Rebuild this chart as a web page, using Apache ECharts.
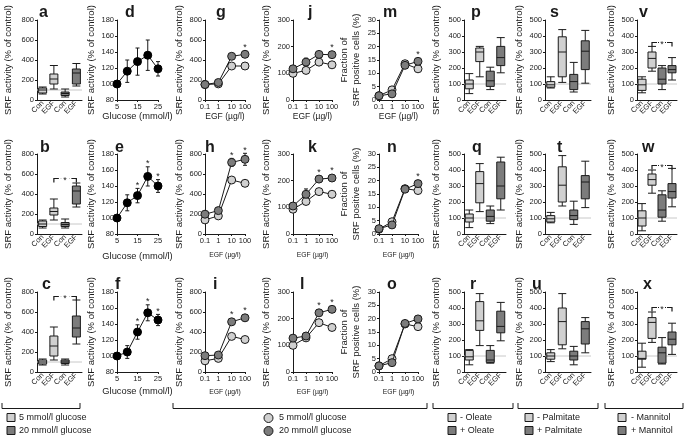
<!DOCTYPE html>
<html><head><meta charset="utf-8">
<script src="https://cdn.jsdelivr.net/npm/echarts/dist/echarts.min.js"></script>
<style>html,body{margin:0;padding:0;background:#fff}#c{width:685px;height:436px}</style>
</head><body><div id="c"></div>
<script>
// ---------------- DATA ----------------
const boxCats = ['Con', 'EGF', 'Con', 'EGF'];
const egfCats = ['0.1', '1', '10', '100'];
const glucoseCats = ['5', '10', '15', '20', '25'];
const ticksSrf800 = [0, 200, 400, 600, 800];
const ticksSrf500 = [0, 100, 200, 300, 400, 500];
const ticksSrf300 = [0, 100, 200, 300];
const ticksGluc = [80, 100, 120, 140, 160, 180];
const ticksFrac = [0, 5, 10, 15, 20, 25, 30];
const refLevel = 100;

// box plots: [min, Q1, median, Q3, max]  (5 mM Con, 5 mM EGF, 20 mM Con, 20 mM EGF)
const boxA = [[60, 70, 100, 120, 130], [110, 160, 210, 260, 345], [30, 45, 65, 80, 110], [140, 160, 270, 310, 365]];
const boxB = [[60, 75, 100, 130, 140], [140, 190, 225, 260, 350], [60, 75, 95, 115, 150], [270, 300, 430, 480, 510]];
const boxC = [[70, 80, 100, 120, 130], [120, 160, 260, 360, 450], [70, 85, 100, 120, 130], [280, 350, 440, 560, 720]];
const bracketB = [1, 3, 560];
const bracketC = [1, 3, 760];

// glucose dose response
const glucD = [100, 116, 128, 136, 119], errGlucD = [0, 14, 17, 19, 9], starGlucD = [0, 0, 0, 0, 0];
const glucE = [100, 119, 128, 152, 140], errGlucE = [0, 10, 9, 12, 8], starGlucE = [0, 0, 1, 1, 1];
const glucF = [100, 105, 130, 154, 145], errGlucF = [0, 8, 9, 10, 7], starGlucF = [0, 0, 1, 1, 1];

// EGF dose response: light = 5 mM glucose, dark = 20 mM glucose
const lightG = [155, 161, 340, 340], darkG = [155, 175, 437, 457];
const errLightG = [10, 10, 20, 20], errDarkG = [10, 15, 25, 30], starG = [0, 0, 0, 1];
const lightH = [141, 181, 540, 507], darkH = [198, 234, 716, 747];
const errLightH = [15, 15, 30, 25], errDarkH = [15, 20, 40, 60], starH = [0, 0, 1, 1];
const lightI = [112, 136, 356, 325], darkI = [163, 170, 502, 542];
const errLightI = [10, 10, 20, 20], errDarkI = [15, 15, 30, 30], starI = [0, 0, 1, 1];
const lightJ = [100, 111, 142, 132], darkJ = [117, 142, 171, 170];
const errLightJ = [5, 8, 8, 8], errDarkJ = [8, 15, 10, 10], starJ = [0, 0, 0, 1];
const lightK = [93, 122, 159, 149], darkK = [105, 149, 206, 210];
const errLightK = [5, 10, 8, 8], errDarkK = [8, 20, 8, 8], starK = [0, 0, 1, 1];
const lightL = [100, 128, 185, 167], darkL = [127, 135, 222, 235];
const errLightL = [5, 10, 8, 8], errDarkL = [10, 10, 8, 8], starL = [0, 0, 1, 1];
const lightM = [1.6, 3.8, 13.6, 11.7], darkM = [1.6, 2.3, 13.0, 14.5];
const errLightM = [0.3, 0.5, 0.5, 0.5], errDarkM = [0.3, 0.5, 0.5, 0.8], starM = [0, 0, 0, 1];
const lightN = [1.8, 4.6, 17.0, 16.3], darkN = [2.0, 3.4, 16.8, 18.9];
const errLightN = [0.3, 0.5, 0.5, 0.5], errDarkN = [0.3, 0.5, 0.5, 0.8], starN = [0, 0, 0, 1];
const lightO = [2.3, 5.0, 18.0, 17.0], darkO = [2.3, 3.5, 18.2, 19.9];
const errLightO = [0.3, 0.5, 0.5, 0.8], errDarkO = [0.3, 0.5, 0.6, 0.8], starO = [0, 0, 0, 0];

// fatty acids / mannitol box plots: (- Con, - EGF, + Con, + EGF)
const boxP = [[40, 70, 100, 125, 165], [145, 240, 300, 325, 335], [65, 85, 120, 180, 205], [170, 215, 265, 335, 390]];
const boxQ = [[40, 75, 100, 125, 150], [140, 195, 315, 390, 440], [65, 80, 110, 150, 175], [150, 220, 300, 450, 480]];
const boxR = [[45, 75, 95, 135, 140], [165, 260, 320, 440, 490], [55, 60, 75, 135, 165], [195, 245, 285, 380, 435]];
const boxS = [[75, 80, 95, 115, 145], [110, 145, 300, 395, 440], [50, 65, 115, 160, 235], [105, 190, 305, 370, 435]];
const boxT = [[70, 75, 95, 115, 135], [175, 200, 305, 420, 490], [60, 90, 115, 150, 205], [165, 220, 325, 365, 455]];
const boxU = [[65, 80, 100, 120, 140], [145, 170, 315, 400, 490], [45, 75, 100, 130, 160], [120, 175, 270, 315, 340]];
const boxV = [[45, 60, 95, 130, 145], [180, 200, 260, 300, 335], [65, 100, 130, 200, 215], [125, 170, 190, 215, 265]];
const boxW = [[20, 50, 100, 145, 190], [255, 305, 340, 375, 400], [80, 105, 150, 245, 270], [170, 225, 265, 315, 410]];
const boxX = [[30, 80, 85, 130, 180], [185, 210, 310, 340, 375], [50, 55, 120, 155, 215], [110, 170, 205, 250, 305]];
const bracketV = [1, 3, 365];
const bracketW = [1, 3, 432];
const bracketX = [1, 3, 405];

// ---------------- STYLE / LAYOUT ----------------
const INK = '#1a1a1a', LIGHT = '#d0d0d0', DARK = '#7c7c7c', REF = '#c8c8c8';
const FF = 'Liberation Sans';
const ROW_TOP = [20, 154, 292], PH = 80;
const COL = {A: [37, 45], D: [117, 41], G: [205, 40], J: [293, 39], M: [379, 39], P: [464, 42], S: [545, 46], V: [637, 40]};
const YGAP = {A: 23, D: 16, G: 19, J: 21, M: 17, P: 22, S: 18, V: 20};
const XGAP_EGF = [9, 18, 17], XSIZE_EGF = [8.5, 6.8, 6.8];
const XGAP_GLU = [11, 18, 15];
const SRF = 'SRF activity (% of control)';
const FRAC = 'Fraction of\nSRF positive cells (%)';

const opt = {animation: false, backgroundColor: '#fff', textStyle: {fontFamily: FF}, grid: [], xAxis: [], yAxis: [], series: [], graphic: []};

function newGrid(col, row) {
  const [l, w] = COL[col];
  opt.grid.push({left: l, top: ROW_TOP[row], width: w, height: PH});
  return opt.grid.length - 1;
}
function mkY(g, ticks, name, gap) {
  return {gridIndex: g, type: 'value', min: ticks[0], max: ticks[ticks.length - 1], interval: ticks[1] - ticks[0],
    axisLine: {show: true, lineStyle: {color: INK, width: 1}}, axisTick: {show: true, length: 2, lineStyle: {color: INK}},
    splitLine: {show: false},
    axisLabel: {fontSize: 7.5, color: INK, margin: 3, fontFamily: FF,
      formatter: v => { const k = ticks.indexOf(v); return k >= 0 ? String(ticks[k]) : ''; }},
    name: name, nameLocation: 'middle', nameGap: gap,
    nameTextStyle: {fontSize: 9.5, color: INK, fontFamily: FF, lineHeight: 12}};
}
function refLine(params, api) {
  const cs = params.coordSys; const p = api.coord([0, api.value(1)]);
  return {type: 'line', shape: {x1: cs.x, y1: p[1], x2: cs.x + cs.width, y2: p[1]}, style: {stroke: REF, lineWidth: 1}};
}
function bracketItem(params, api) {
  const a = api.coord([api.value(0), api.value(2)]), b = api.coord([api.value(1), api.value(2)]);
  const y = Math.round(a[1]) + 0.5, mid = (a[0] + b[0]) / 2;
  return {type: 'group', children: [
    {type: 'polyline', shape: {points: [[a[0], y + 4], [a[0], y], [a[0] + 5, y]]}, style: {stroke: INK, lineWidth: 1.2, fill: null}},
    {type: 'line', shape: {x1: a[0] + 7, y1: y, x2: mid - 4, y2: y}, style: {stroke: INK, lineWidth: 1.2}},
    {type: 'line', shape: {x1: mid + 4, y1: y, x2: b[0] - 7, y2: y}, style: {stroke: INK, lineWidth: 1.2}},
    {type: 'polyline', shape: {points: [[b[0] - 5, y], [b[0], y], [b[0], y + 4]]}, style: {stroke: INK, lineWidth: 1.2, fill: null}},
    {type: 'text', style: {text: '*', x: mid, y: y + 2, align: 'center', verticalAlign: 'middle', font: '9px "Liberation Sans"', fill: INK}}
  ]};
}
function errItem(params, api) {
  const i = api.value(0), v = api.value(1), e = api.value(2), s = api.value(3);
  const children = [];
  const c = api.coord([i, v]);
  let topY = c[1] - 4;
  if (e > 0) {
    const t = api.coord([i, v + e]), b = api.coord([i, v - e]);
    children.push({type: 'line', shape: {x1: t[0], y1: t[1], x2: b[0], y2: b[1]}, style: {stroke: INK, lineWidth: 1}});
    children.push({type: 'line', shape: {x1: t[0] - 2, y1: t[1], x2: t[0] + 2, y2: t[1]}, style: {stroke: INK, lineWidth: 1}});
    children.push({type: 'line', shape: {x1: b[0] - 2, y1: b[1], x2: b[0] + 2, y2: b[1]}, style: {stroke: INK, lineWidth: 1}});
    topY = Math.min(topY, t[1]);
  }
  if (s) children.push({type: 'text', style: {text: '*', x: c[0], y: topY - 3, align: 'center', verticalAlign: 'middle', font: '9px "Liberation Sans"', fill: INK}});
  return {type: 'group', children: children};
}

function boxPanel(col, row, data, ticks, bracket) {
  const g = newGrid(col, row);
  opt.xAxis.push({gridIndex: g, type: 'category', data: boxCats, boundaryGap: true,
    axisLine: {lineStyle: {color: INK}}, axisTick: {show: false},
    axisLabel: {interval: 0, rotate: 45, fontSize: 7.5, color: INK, margin: 2, fontFamily: FF}});
  opt.yAxis.push(mkY(g, ticks, SRF, YGAP[col]));
  opt.series.push({type: 'custom', xAxisIndex: g, yAxisIndex: g, z: 1, silent: true, clip: false, data: [[0, refLevel]], renderItem: refLine});
  opt.series.push({type: 'boxplot', xAxisIndex: g, yAxisIndex: g, z: 2, silent: true, boxWidth: [8, 8],
    data: data.map((d, i) => ({value: d, itemStyle: {color: i < 2 ? LIGHT : DARK, borderColor: INK, borderWidth: 1}}))});
  if (bracket) opt.series.push({type: 'custom', xAxisIndex: g, yAxisIndex: g, z: 5, silent: true, clip: false, data: [bracket], renderItem: bracketItem});
}
function egfPanel(col, row, light, dark, eL, eD, stars, ticks, yname) {
  const g = newGrid(col, row);
  opt.xAxis.push({gridIndex: g, type: 'category', data: egfCats, boundaryGap: false,
    axisLine: {lineStyle: {color: INK}}, axisTick: {show: true, length: 2, lineStyle: {color: INK}},
    axisLabel: {interval: 0, fontSize: 7.5, color: INK, margin: 3, fontFamily: FF},
    name: 'EGF (µg/l)', nameLocation: 'middle', nameGap: XGAP_EGF[row], nameTextStyle: {fontSize: XSIZE_EGF[row], color: INK, fontFamily: FF}});
  opt.yAxis.push(mkY(g, ticks, yname, YGAP[col]));
  opt.series.push({type: 'custom', xAxisIndex: g, yAxisIndex: g, z: 2, silent: true, clip: false, data: light.map((v, i) => [i, v, eL[i], 0]), renderItem: errItem});
  opt.series.push({type: 'custom', xAxisIndex: g, yAxisIndex: g, z: 2, silent: true, clip: false, data: dark.map((v, i) => [i, v, eD[i], stars[i]]), renderItem: errItem});
  opt.series.push({type: 'line', xAxisIndex: g, yAxisIndex: g, z: 3, silent: true, data: light, symbol: 'circle', symbolSize: 8, showAllSymbol: true,
    itemStyle: {color: LIGHT, borderColor: INK, borderWidth: 1}, lineStyle: {color: INK, width: 1}});
  opt.series.push({type: 'line', xAxisIndex: g, yAxisIndex: g, z: 4, silent: true, data: dark, symbol: 'circle', symbolSize: 8, showAllSymbol: true,
    itemStyle: {color: DARK, borderColor: INK, borderWidth: 1}, lineStyle: {color: INK, width: 1}});
}
function glucPanel(col, row, vals, errs, stars) {
  const g = newGrid(col, row);
  opt.xAxis.push({gridIndex: g, type: 'category', data: glucoseCats, boundaryGap: false,
    axisLine: {lineStyle: {color: INK}}, axisTick: {show: true, length: 2, interval: 1, lineStyle: {color: INK}},
    axisLabel: {interval: 1, fontSize: 7.5, color: INK, margin: 3, fontFamily: FF},
    name: 'Glucose (mmol/l)', nameLocation: 'middle', nameGap: XGAP_GLU[row], nameTextStyle: {fontSize: 9.3, color: INK, fontFamily: FF}});
  opt.yAxis.push(mkY(g, ticksGluc, SRF, YGAP[col]));
  opt.series.push({type: 'custom', xAxisIndex: g, yAxisIndex: g, z: 2, silent: true, clip: false, data: vals.map((v, i) => [i, v, errs[i], stars[i]]), renderItem: errItem});
  opt.series.push({type: 'line', xAxisIndex: g, yAxisIndex: g, z: 3, silent: true, data: vals, symbol: 'circle', symbolSize: 8, showAllSymbol: true,
    itemStyle: {color: '#000', borderColor: '#000', borderWidth: 1}, lineStyle: {color: INK, width: 1}});
}

boxPanel('A', 0, boxA, ticksSrf800, null);
boxPanel('A', 1, boxB, ticksSrf800, bracketB);
boxPanel('A', 2, boxC, ticksSrf800, bracketC);
glucPanel('D', 0, glucD, errGlucD, starGlucD);
glucPanel('D', 1, glucE, errGlucE, starGlucE);
glucPanel('D', 2, glucF, errGlucF, starGlucF);
egfPanel('G', 0, lightG, darkG, errLightG, errDarkG, starG, ticksSrf800, SRF);
egfPanel('G', 1, lightH, darkH, errLightH, errDarkH, starH, ticksSrf800, SRF);
egfPanel('G', 2, lightI, darkI, errLightI, errDarkI, starI, ticksSrf800, SRF);
egfPanel('J', 0, lightJ, darkJ, errLightJ, errDarkJ, starJ, ticksSrf300, SRF);
egfPanel('J', 1, lightK, darkK, errLightK, errDarkK, starK, ticksSrf300, SRF);
egfPanel('J', 2, lightL, darkL, errLightL, errDarkL, starL, ticksSrf300, SRF);
egfPanel('M', 0, lightM, darkM, errLightM, errDarkM, starM, ticksFrac, FRAC);
egfPanel('M', 1, lightN, darkN, errLightN, errDarkN, starN, ticksFrac, FRAC);
egfPanel('M', 2, lightO, darkO, errLightO, errDarkO, starO, ticksFrac, FRAC);
boxPanel('P', 0, boxP, ticksSrf500, null);
boxPanel('P', 1, boxQ, ticksSrf500, null);
boxPanel('P', 2, boxR, ticksSrf500, null);
boxPanel('S', 0, boxS, ticksSrf500, null);
boxPanel('S', 1, boxT, ticksSrf500, null);
boxPanel('S', 2, boxU, ticksSrf500, null);
boxPanel('V', 0, boxV, ticksSrf500, bracketV);
boxPanel('V', 1, boxW, ticksSrf500, bracketW);
boxPanel('V', 2, boxX, ticksSrf500, bracketX);

// panel letters
const letters = [
  ['a', 39, 0], ['d', 125, 0], ['g', 216, 0], ['j', 308, 0], ['m', 383, 0], ['p', 471, 0], ['s', 550, 0], ['v', 639, 0],
  ['b', 40, 1], ['e', 115, 1], ['h', 205, 1], ['k', 308, 1], ['n', 387, 1], ['q', 472, 1], ['t', 557, 1], ['w', 642, 1],
  ['c', 42, 2], ['f', 115, 2], ['i', 213, 2], ['l', 300, 2], ['o', 387, 2], ['r', 470, 2], ['u', 532, 2], ['x', 643, 2]
];
const LETTER_TOP = [5, 140, 277];
letters.forEach(([t, x, r]) => opt.graphic.push({type: 'text', left: x, top: LETTER_TOP[r], silent: true,
  style: {text: t, font: 'bold 16px "Liberation Sans"', fill: INK}}));

// group brackets
const groupBrackets = [[2, 80], [173, 427], [433, 513], [518, 598], [605, 683]];
groupBrackets.forEach(([x1, x2]) => opt.graphic.push({type: 'polyline', silent: true,
  shape: {points: [[x1, 403], [x1, 408.5], [x2, 408.5], [x2, 403]]}, style: {stroke: INK, lineWidth: 1, fill: null}}));

// legends
function sq(x, y, c) { opt.graphic.push({type: 'rect', silent: true, shape: {x: x, y: y, width: 8, height: 8}, style: {fill: c, stroke: INK, lineWidth: 1}}); }
function txt(x, y, t) { opt.graphic.push({type: 'text', silent: true, x: x, y: y, style: {text: t, font: '9px "Liberation Sans"', fill: INK, verticalAlign: 'middle'}}); }
function circ(x, y, c) { opt.graphic.push({type: 'circle', silent: true, shape: {cx: x, cy: y, r: 4.5}, style: {fill: c, stroke: INK, lineWidth: 1}}); }
sq(7, 413.5, LIGHT); txt(19, 418, '5 mmol/l glucose');
sq(7, 426.5, DARK); txt(19, 431, '20 mmol/l glucose');
circ(268.5, 418, LIGHT); txt(279, 418, '5 mmol/l glucose');
circ(268.5, 431, DARK); txt(279, 431, '20 mmol/l glucose');
sq(448, 413.5, LIGHT); txt(460, 418, '- Oleate');
sq(448, 426.5, DARK); txt(460, 431, '+ Oleate');
sq(525, 413.5, LIGHT); txt(537, 418, '- Palmitate');
sq(525, 426.5, DARK); txt(537, 431, '+ Palmitate');
sq(618, 413.5, LIGHT); txt(631, 418, '- Mannitol');
sq(618, 426.5, DARK); txt(631, 431, '+ Mannitol');

const chart = echarts.init(document.getElementById('c'), null, {renderer: 'canvas'});
chart.setOption(opt);
</script></body></html>
